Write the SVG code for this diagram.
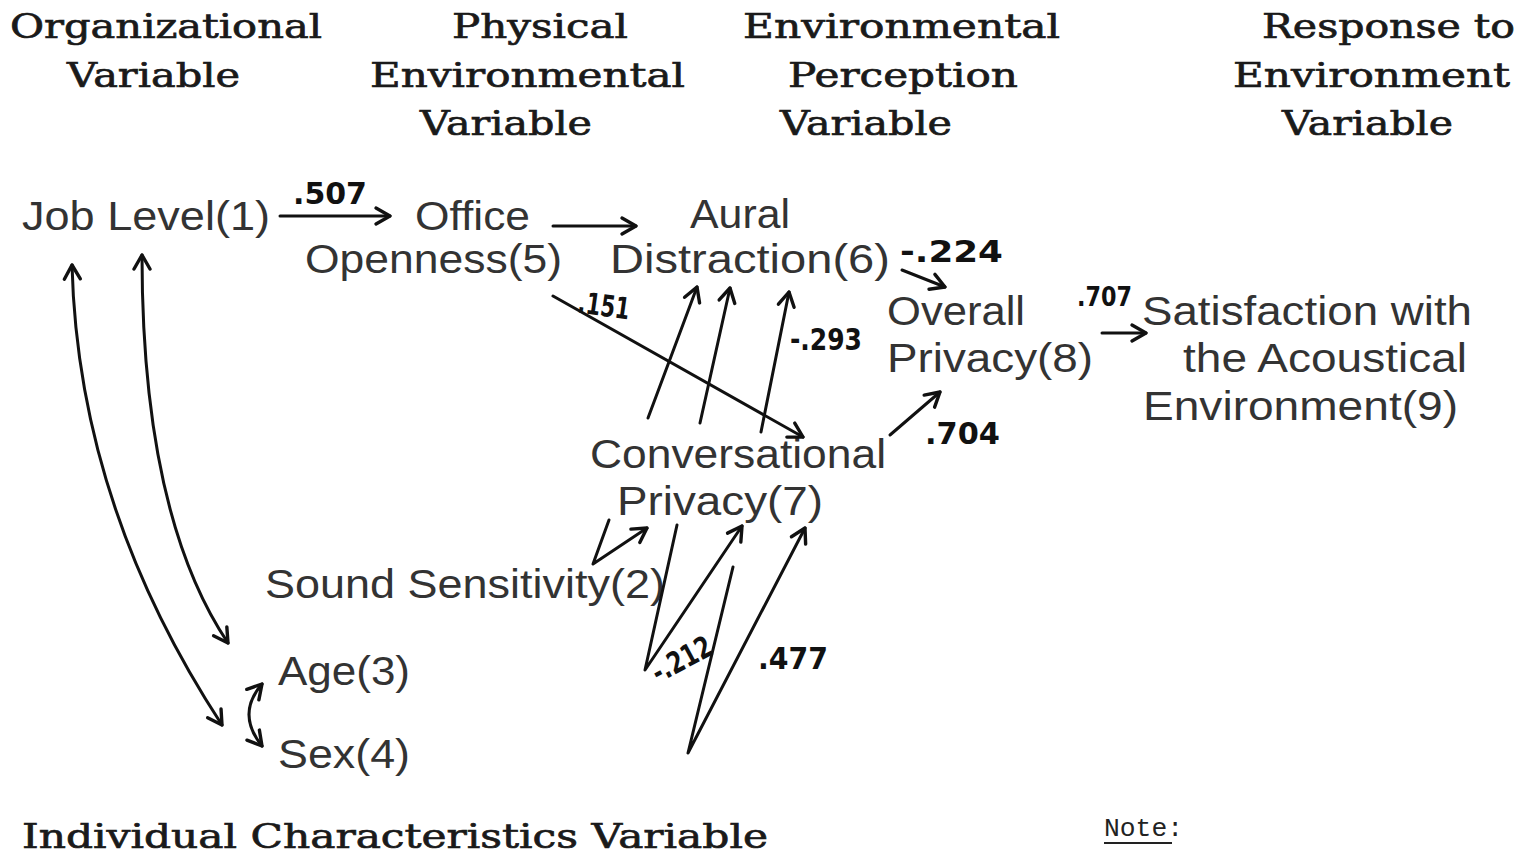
<svg xmlns="http://www.w3.org/2000/svg" width="1520" height="853" viewBox="0 0 1520 853">
<style>
.hdr{font-family:"DejaVu Serif","Liberation Serif",serif;font-weight:normal;font-size:34px;fill:#1a1a1a;stroke:#1a1a1a;stroke-width:0.7}
.nd{font-family:"Liberation Sans","DejaVu Sans",sans-serif;font-size:40px;fill:#333333}
.lbl{font-family:"DejaVu Sans","Liberation Sans",sans-serif;font-weight:bold;font-size:30px;fill:#111}
.note{font-family:"Liberation Mono","DejaVu Sans Mono",monospace;font-size:25px;fill:#222}
.cn{fill:none;stroke:#111;stroke-width:3;stroke-linecap:round;stroke-linejoin:round}
</style>
<defs>
<marker id="ah" viewBox="0 0 22 22" refX="19" refY="11" markerWidth="22" markerHeight="22" markerUnits="userSpaceOnUse" orient="auto-start-reverse">
<path d="M5,3 L19,11 L5,19" fill="none" stroke="#111" stroke-width="3.4" stroke-linecap="round" stroke-linejoin="round"/>
</marker>
</defs>
<rect width="1520" height="853" fill="#ffffff"/>

<g id="headers">
<text class="hdr" x="10" y="38" textLength="312" lengthAdjust="spacingAndGlyphs">Organizational</text>
<text class="hdr" x="67" y="87" textLength="173" lengthAdjust="spacingAndGlyphs">Variable</text>
<text class="hdr" x="452" y="38" textLength="176" lengthAdjust="spacingAndGlyphs">Physical</text>
<text class="hdr" x="370" y="87" textLength="315" lengthAdjust="spacingAndGlyphs">Environmental</text>
<text class="hdr" x="420" y="135" textLength="172" lengthAdjust="spacingAndGlyphs">Variable</text>
<text class="hdr" x="743" y="38" textLength="317" lengthAdjust="spacingAndGlyphs">Environmental</text>
<text class="hdr" x="788" y="87" textLength="230" lengthAdjust="spacingAndGlyphs">Perception</text>
<text class="hdr" x="780" y="135" textLength="172" lengthAdjust="spacingAndGlyphs">Variable</text>
<text class="hdr" x="1262" y="38" textLength="253" lengthAdjust="spacingAndGlyphs">Response to</text>
<text class="hdr" x="1233" y="87" textLength="277" lengthAdjust="spacingAndGlyphs">Environment</text>
<text class="hdr" x="1282" y="135" textLength="171" lengthAdjust="spacingAndGlyphs">Variable</text>
<text class="hdr" x="22" y="848" textLength="746" lengthAdjust="spacingAndGlyphs">Individual Characteristics Variable</text>
</g>

<g id="node1"><text class="nd" x="22" y="230" textLength="248" lengthAdjust="spacingAndGlyphs">Job Level(1)</text></g>
<g id="node5"><text class="nd" x="415" y="230" textLength="115" lengthAdjust="spacingAndGlyphs">Office</text><text class="nd" x="305" y="273" textLength="257" lengthAdjust="spacingAndGlyphs">Openness(5)</text></g>
<g id="node6"><text class="nd" x="690" y="228" textLength="100" lengthAdjust="spacingAndGlyphs">Aural</text><text class="nd" x="610" y="273" textLength="280" lengthAdjust="spacingAndGlyphs">Distraction(6)</text></g>
<g id="node8"><text class="nd" x="887" y="325" textLength="138" lengthAdjust="spacingAndGlyphs">Overall</text><text class="nd" x="887" y="372" textLength="206" lengthAdjust="spacingAndGlyphs">Privacy(8)</text></g>
<g id="node9"><text class="nd" x="1142" y="325" textLength="330" lengthAdjust="spacingAndGlyphs">Satisfaction with</text><text class="nd" x="1183" y="372" textLength="284" lengthAdjust="spacingAndGlyphs">the Acoustical</text><text class="nd" x="1143" y="420" textLength="315" lengthAdjust="spacingAndGlyphs">Environment(9)</text></g>
<g id="node7"><text class="nd" x="590" y="468" textLength="296" lengthAdjust="spacingAndGlyphs">Conversational</text><text class="nd" x="617" y="515" textLength="206" lengthAdjust="spacingAndGlyphs">Privacy(7)</text></g>
<g id="node2"><text class="nd" x="265" y="598" textLength="400" lengthAdjust="spacingAndGlyphs">Sound Sensitivity(2)</text></g>
<g id="node3"><text class="nd" x="278" y="685" textLength="132" lengthAdjust="spacingAndGlyphs">Age(3)</text></g>
<g id="node4"><text class="nd" x="278" y="768" textLength="132" lengthAdjust="spacingAndGlyphs">Sex(4)</text></g>

<g id="connectors">
<path class="cn" d="M280,216 L390,216" marker-end="url(#ah)"/>
<path class="cn" d="M553,226 L636,226" marker-end="url(#ah)"/>
<path class="cn" d="M902,270 L945,287" marker-end="url(#ah)"/>
<path class="cn" d="M1102,333 L1146,333" marker-end="url(#ah)"/>
<path class="cn" d="M890,435 L940,392" marker-end="url(#ah)"/>
<path class="cn" d="M553,296 L803,437" marker-end="url(#ah)"/>
<path class="cn" d="M648,418 L697,287" marker-end="url(#ah)"/>
<path class="cn" d="M700,423 L730,288" marker-end="url(#ah)"/>
<path class="cn" d="M761,432 L789,292" marker-end="url(#ah)"/>
<path class="cn" d="M609,520 L593,564 L647,528" marker-end="url(#ah)"/>
<path class="cn" d="M677,525 L645,670 L742,526" marker-end="url(#ah)"/>
<path class="cn" d="M733,567 L688,753 L805,528" marker-end="url(#ah)"/>
<path class="cn" d="M72,265 Q78,505 222,725" marker-start="url(#ah)" marker-end="url(#ah)"/>
<path class="cn" d="M142,255 Q142,515 228,643" marker-start="url(#ah)" marker-end="url(#ah)"/>
<path class="cn" d="M262,684 Q236,714 262,746" marker-start="url(#ah)" marker-end="url(#ah)"/>
</g>

<g id="labels">
<text class="lbl" x="293" y="204" textLength="74" lengthAdjust="spacingAndGlyphs">.507</text>
<text class="lbl" x="900" y="262" textLength="103" lengthAdjust="spacingAndGlyphs">-.224</text>
<text class="lbl" x="578" y="316" textLength="52" lengthAdjust="spacingAndGlyphs" transform="rotate(8 604 306)">.151</text>
<text class="lbl" x="790" y="350" textLength="72" lengthAdjust="spacingAndGlyphs">-.293</text>
<text class="lbl" x="1077" y="306" textLength="55" lengthAdjust="spacingAndGlyphs" style="font-size:27px">.707</text>
<text class="lbl" x="925" y="444" textLength="75" lengthAdjust="spacingAndGlyphs">.704</text>
<text class="lbl" x="650" y="670" textLength="64" lengthAdjust="spacingAndGlyphs" transform="rotate(-28 681 660)">-.212</text>
<text class="lbl" x="758" y="669" textLength="70" lengthAdjust="spacingAndGlyphs">.477</text>
</g>

<g id="note">
<text class="note" x="1104" y="836" textLength="79" lengthAdjust="spacingAndGlyphs">Note:</text>
<line x1="1104" y1="843" x2="1172" y2="843" stroke="#222" stroke-width="2"/>
</g>
</svg>
